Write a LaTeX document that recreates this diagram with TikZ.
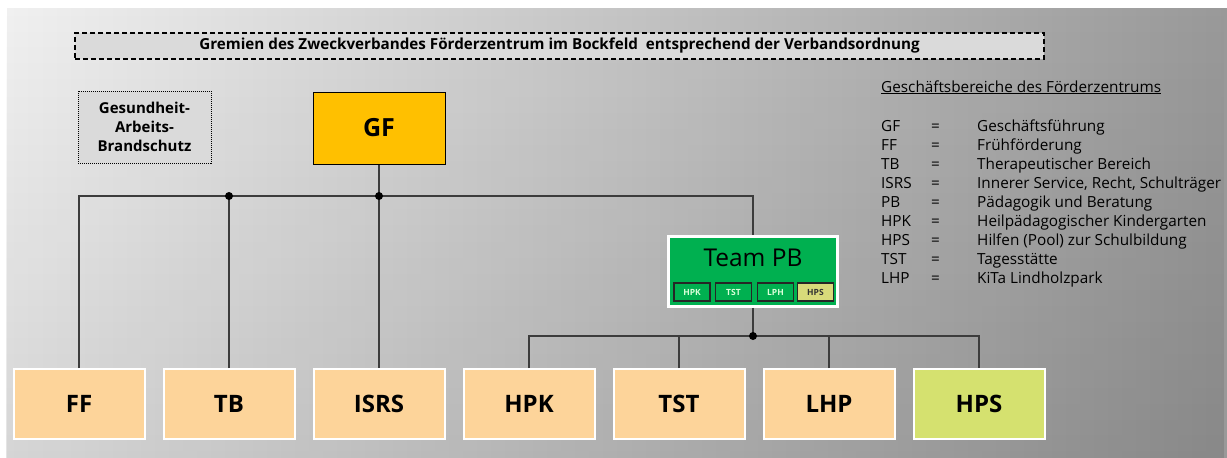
\documentclass[tikz,border=0pt]{standalone}
\usepackage{fontspec}
\setmainfont{Open Sans}
\usetikzlibrary{fadings}
\definecolor{bgL}{HTML}{F0F0F0}
\definecolor{bgR}{HTML}{999999}
\definecolor{boxgray}{HTML}{DADADA}
\definecolor{gfcol}{HTML}{FFC000}
\definecolor{peach}{HTML}{FDD49A}
\definecolor{hpscol}{HTML}{D5E16F}
\definecolor{teamgreen}{HTML}{00B050}
\definecolor{smallhps}{HTML}{D8DA7A}
\definecolor{linecol}{HTML}{3C3C3C}
\begin{document}
\begin{tikzpicture}[x=1pt,y=-1pt,
  conn/.style={draw=linecol, line width=1.1pt},
  jdot/.style={circle, fill=black, inner sep=0pt, minimum size=8pt},
  unitbox/.style={draw=white, line width=2pt, fill=peach, minimum width=131pt, minimum height=70pt, inner sep=0pt, font=\fontsize{24}{28}\selectfont\bfseries},
  smallbox/.style={draw=black!85, line width=1.3pt, fill=teamgreen, minimum width=36pt, minimum height=18pt, inner sep=0pt, font=\fontsize{8.5}{10}\selectfont\bfseries, text=white!85!green},
  legtxt/.style={anchor=base west, inner sep=0pt, font=\fontsize{15.3}{18}\selectfont},
]
\useasboundingbox (0,0) rectangle (1227,458);
\fill[white] (0,0) rectangle (1227,458);
\shade[left color=bgL, right color=bgR] (7,8) rectangle (1227,458);
\fill[black, fill opacity=0.11, path fading=north] (7,8) rectangle (1227,458);

% title
\node[draw=black, dash pattern=on 5pt off 3pt, line width=1.3pt, fill=boxgray, minimum width=969pt, minimum height=26pt, inner sep=0pt, font=\fontsize{15.2}{18}\selectfont\bfseries] (title) at (559.5,46) {Gremien des Zweckverbandes Förderzentrum im Bockfeld\ \ entsprechend der Verbandsordnung};

% side box
\node[draw=black, dash pattern=on 1pt off 1pt, line width=0.9pt, fill=boxgray, minimum width=133pt, minimum height=72pt, inner sep=0pt, align=center, font=\fontsize{15}{19}\selectfont\bfseries] (gab) at (144.5,127) {Gesundheit-\\Arbeits-\\Brandschutz};

% GF
\node[draw=black, line width=1pt, fill=gfcol, minimum width=132pt, minimum height=72pt, inner sep=0pt, font=\fontsize{25}{30}\selectfont\bfseries] (GF) at (379,128) {GF};

% Team PB
\node[draw=white, line width=2.5pt, fill=teamgreen, minimum width=169pt, minimum height=70pt, inner sep=0pt] (PB) at (753,271.5) {};
\node[inner sep=0pt, font=\fontsize{24.5}{28}\selectfont] (PBt) at (753,258) {Team PB};
\node[smallbox] (sHPK) at (692,292) {HPK};
\node[smallbox] (sTST) at (733.5,292) {TST};
\node[smallbox] (sLPH) at (775.5,292) {LPH};
\node[smallbox, fill=smallhps, text=black!80] (sHPS) at (815.5,292) {HPS};

% bottom units
\node[unitbox] (FF) at (79,404) {FF};
\node[unitbox] (TB) at (229,404) {TB};
\node[unitbox] (ISRS) at (379,404) {ISRS};
\node[unitbox] (HPK) at (529,404) {HPK};
\node[unitbox] (TST) at (679,404) {TST};
\node[unitbox] (LHP) at (829,404) {LHP};
\node[unitbox, fill=hpscol] (HPS) at (979,404) {HPS};

% connectors
\coordinate (busR) at (753,196);
\coordinate (bus2) at (753,336);
\draw[conn] (FF.north) |- (busR) -- (PB.north);
\draw[conn] (TB.north) -- (TB.north |- busR);
\draw[conn] (GF.south) -- (ISRS.north);
\node[jdot] (d1) at (TB.north |- busR) {};
\node[jdot] (d2) at (GF.south |- busR) {};
\draw[conn] (PB.south) -- (bus2);
\draw[conn] (HPK.north) |- (bus2) -| (HPS.north);
\draw[conn] (TST.north) -- (TST.north |- bus2);
\draw[conn] (LHP.north) -- (LHP.north |- bus2);
\node[jdot] (d3) at (bus2) {};

% legend
\node[legtxt] (lhead) at (881,92) {\underline{Geschäftsbereiche des Förderzentrums}};
\foreach \ab/\tx [count=\i from 0] in {GF/Geschäftsführung, FF/Frühförderung, TB/Therapeutischer Bereich, ISRS/{Innerer Service, Recht, Schulträger}, PB/Pädagogik und Beratung, HPK/Heilpädagogischer Kindergarten, HPS/Hilfen (Pool) zur Schulbildung, TST/Tagesstätte, LHP/KiTa Lindholzpark}{
  \node[legtxt] (la\i) at (881,131+19*\i) {\ab};
  \node[legtxt] (le\i) at (931,131+19*\i) {=};
  \node[legtxt] (ld\i) at (977,131+19*\i) {\tx};
}
\end{tikzpicture}
\end{document}
